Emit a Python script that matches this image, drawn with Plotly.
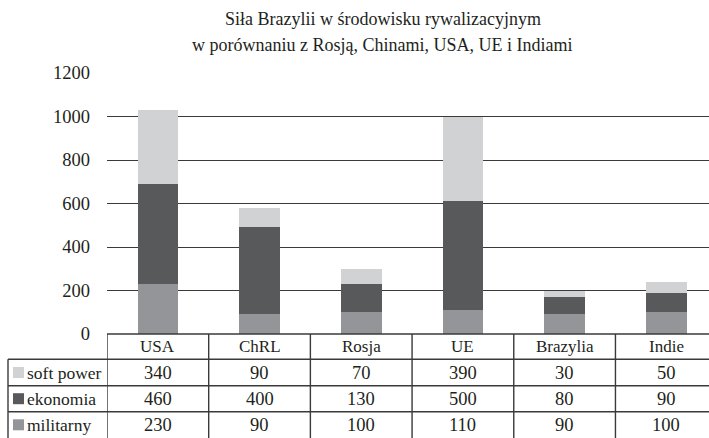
import plotly.graph_objects as go

categories = ["USA", "ChRL", "Rosja", "UE", "Brazylia", "Indie"]
series_names = ["soft power", "ekonomia", "militarny"]
soft_power = [340, 90, 70, 390, 30, 50]
ekonomia = [460, 400, 130, 500, 80, 90]
militarny = [230, 90, 100, 110, 90, 100]
y_ticks = [0, 200, 400, 600, 800, 1000, 1200]

colors = {"soft power": "#d1d2d4", "ekonomia": "#58595b", "militarny": "#939598"}
values = {"soft power": soft_power, "ekonomia": ekonomia, "militarny": militarny}

FONT = "Liberation Serif"
TXT = "#231f20"
LINE = "#3a3a3a"

W, H = 709, 438
L, R, T, B = 107, 0, 73, 104
plot_h = H - T - B
plot_w = W - L - R


def py(p):
    return (H - B - p) / plot_h


def px(p):
    return (p - L) / plot_w


fig = go.Figure()
for name in ["militarny", "ekonomia", "soft power"]:
    fig.add_trace(go.Bar(x=list(range(len(categories))), y=values[name], name=name,
                         marker=dict(color=colors[name], line=dict(width=0)),
                         width=0.4, showlegend=False))

shapes = []
ann = []


def text_ann(text, x, y, xref="paper", size=17, xanchor="center"):
    return dict(text=text, x=x, y=y, xref=xref, yref="paper", showarrow=False,
                xanchor=xanchor, yanchor="middle",
                font=dict(size=size, color=TXT, family=FONT))


# title
ann.append(text_ann("Siła Brazylii w środowisku rywalizacyjnym", px(383), py(19), size=18))
ann.append(text_ann("w porównaniu z Rosją, Chinami, USA, UE i Indiami", px(382), py(45), size=18))

# table geometry
row_lines = [py(359.3), py(385.7), py(411.7)]
bottom = py(440)
centers = [py(346.5), py(372.5), py(398.7), py(424.8)]

# horizontal lines
shapes.append(dict(type="line", xref="paper", yref="paper", x0=0, x1=1, y0=0, y1=0,
                   line=dict(color=LINE, width=1.4)))
for yl in row_lines:
    shapes.append(dict(type="line", xref="paper", yref="paper", x0=px(8), x1=1, y0=yl, y1=yl,
                       line=dict(color=LINE, width=1.4)))
# vertical lines
for i in range(len(categories)):
    shapes.append(dict(type="line", xref="x", yref="paper", x0=i - 0.5, x1=i - 0.5, y0=0, y1=bottom,
                       line=dict(color=LINE, width=1.4)))
shapes.append(dict(type="line", xref="paper", yref="paper", x0=px(8), x1=px(8), y0=row_lines[0], y1=bottom,
                   line=dict(color=LINE, width=1.4)))

# header row
for i, c in enumerate(categories):
    ann.append(text_ann(c, i, centers[0], xref="x", size=17))

# data rows
for r, name in enumerate(series_names):
    yc = centers[r + 1]
    for i, v in enumerate(values[name]):
        ann.append(text_ann(str(v), i, yc, xref="x", size=18.5))
    ann.append(text_ann(name, px(25), yc, size=17.5, xanchor="left"))
    half = 5.5 / plot_h
    shapes.append(dict(type="rect", xref="paper", yref="paper", x0=px(13), x1=px(24),
                       y0=yc - half, y1=yc + half, fillcolor=colors[name], line=dict(width=0)))

fig.update_layout(
    width=W, height=H,
    margin=dict(l=L, r=R, t=T, b=B, pad=0),
    barmode="stack",
    paper_bgcolor="white", plot_bgcolor="white",
    font=dict(family=FONT, color=TXT),
    shapes=shapes, annotations=ann,
    xaxis=dict(range=[-0.5, 5.42], showticklabels=False, showgrid=False, zeroline=False,
               showline=False, ticks="", fixedrange=True),
    yaxis=dict(range=[0, 1200], tickvals=y_ticks, ticktext=[str(t) for t in y_ticks],
               showgrid=True, gridcolor=LINE, gridwidth=1, zeroline=False, showline=False,
               ticks="", tickfont=dict(size=18.5, family=FONT, color=TXT), ticklabelstandoff=16,
               fixedrange=True),
    bargap=0.6,
)

fig.write_html("out.html", config={"displayModeBar": False},
               post_script="document.body.style.margin='0';document.body.style.overflow='hidden';")
